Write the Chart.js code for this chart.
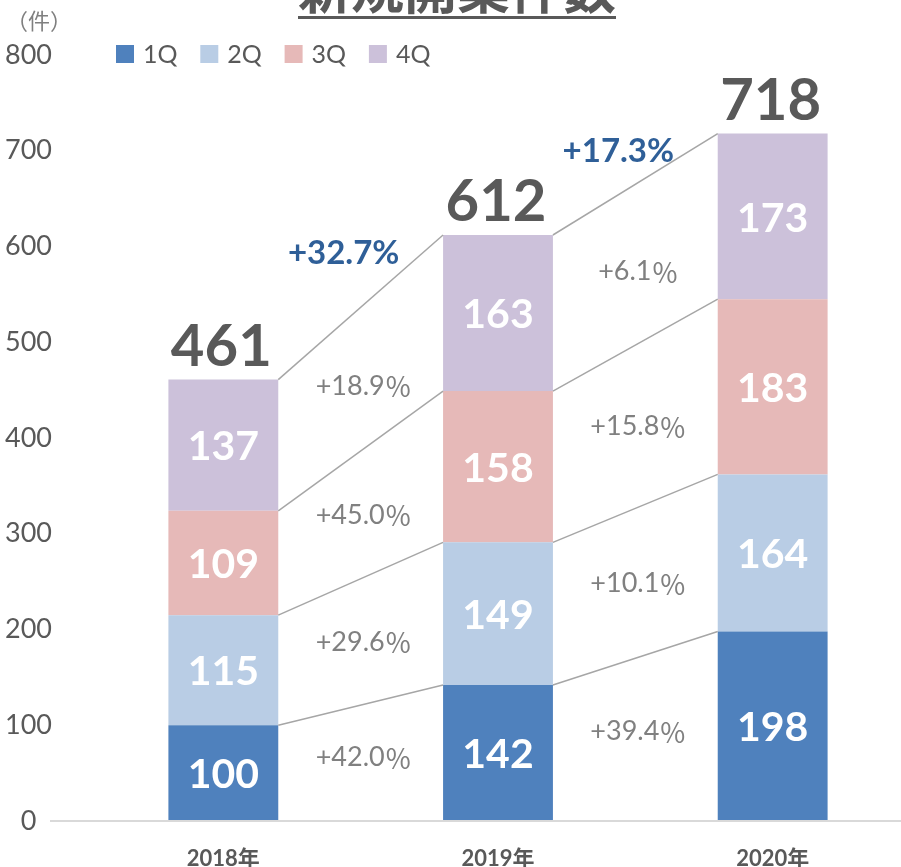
<!DOCTYPE html>
<html>
<head>
<meta charset="utf-8">
<script src="https://cdn.jsdelivr.net/npm/chart.js@4.4.1/dist/chart.umd.min.js"></script>
<style>
  html, body { margin: 0; padding: 0; background: #fff; overflow: hidden; }
</style>
</head>
<body>
<canvas id="chart" width="910" height="867"></canvas>
<script>
// data
const years = ['2018年', '2019年', '2020年'];
const q1 = [100, 142, 198];
const q2 = [115, 149, 164];
const q3 = [109, 158, 183];
const q4 = [137, 163, 173];
const quarterNames = ['1Q', '2Q', '3Q', '4Q'];
const quarterColors = ['#4F81BD', '#B9CDE5', '#E6B9B8', '#CCC1DA'];
const yTicks = [0, 100, 200, 300, 400, 500, 600, 700, 800];
// growth labels as printed (per quarter, per year-to-year gap)
const growthQ1 = ['+42.0％', '+39.4％'];
const growthQ2 = ['+29.6％', '+10.1％'];
const growthQ3 = ['+45.0％', '+15.8％'];
const growthQ4 = ['+18.9％', '+6.1％'];
const growthTotal = ['+32.7%', '+17.3%'];
const chartTitle = '新規開業件数';
const unitLabel = '（件）';

const GRAY = '#595959';
const latin = 'Lato, "Noto Sans CJK JP", sans-serif';
const jp = '"Noto Sans CJK JP", sans-serif';
const growthByQuarter = [growthQ1, growthQ2, growthQ3, growthQ4];

// number part in Lato, full-width ％ in the CJK font, centred as one string
function drawGrowth(ctx, text, cx, cy) {
  const num = text.replace('％', '');
  ctx.font = '27px ' + latin;
  const w1 = ctx.measureText(num).width;
  ctx.font = '27px ' + jp;
  const w2 = ctx.measureText('％').width;
  const x0 = cx - (w1 + w2) / 2;
  ctx.textAlign = 'left';
  ctx.font = '27px ' + latin;
  ctx.fillText(num, x0, cy);
  ctx.font = '27px ' + jp;
  ctx.fillText('％', x0 + w1, cy + 1);
  ctx.textAlign = 'center';
}

const overlay = {
  id: 'overlay',
  afterDatasetsDraw(chart) {
    const ctx = chart.ctx;
    const y = chart.scales.y;
    const metas = chart.data.datasets.map((d, i) => chart.getDatasetMeta(i).data);
    const base = y.getPixelForValue(0);

    ctx.save();
    // base line
    ctx.strokeStyle = '#D9D9D9';
    ctx.lineWidth = 2;
    ctx.beginPath();
    ctx.moveTo(50, base);
    ctx.lineTo(chart.width, base);
    ctx.stroke();

    // connector lines
    ctx.strokeStyle = '#A6A6A6';
    ctx.lineWidth = 1.5;
    metas.forEach(bars => {
      for (let i = 0; i < bars.length - 1; i++) {
        const a = bars[i], b = bars[i + 1];
        ctx.beginPath();
        ctx.moveTo(a.x + a.width / 2, a.y);
        ctx.lineTo(b.x - b.width / 2, b.y);
        ctx.stroke();
      }
    });

    // values inside segments
    ctx.fillStyle = '#fff';
    ctx.font = 'bold 41px ' + latin;
    ctx.textAlign = 'center';
    ctx.textBaseline = 'middle';
    chart.data.datasets.forEach((ds, d) => {
      metas[d].forEach((el, i) => {
        ctx.fillText(String(ds.data[i]), el.x, (el.y + el.base) / 2 + 2);
      });
    });

    // totals
    ctx.fillStyle = GRAY;
    ctx.font = 'bold 58px ' + latin;
    ctx.textBaseline = 'alphabetic';
    const top = metas[metas.length - 1];
    years.forEach((yr, i) => {
      const total = chart.data.datasets.reduce((s, ds) => s + ds.data[i], 0);
      ctx.fillText(String(total), top[i].x - 2, top[i].y - 14);
    });

    // growth per quarter
    ctx.textBaseline = 'middle';
    for (let i = 0; i < years.length - 1; i++) {
      const gx = (metas[0][i].x + metas[0][i].width / 2 + metas[0][i + 1].x - metas[0][i + 1].width / 2) / 2;
      let prev = base;
      ctx.fillStyle = '#808080';
      growthByQuarter.forEach((labels, d) => {
        const mid = (metas[d][i].y + metas[d][i + 1].y) / 2;
        const ly = d === 0 ? prev + (mid - prev) * 0.55 : (prev + mid) / 2 + (d === 3 ? 7 : 0);
        drawGrowth(ctx, labels[i], gx + 3, ly);
        prev = mid;
      });
      // total growth
      ctx.fillStyle = '#2F5F98';
      ctx.font = 'bold 33px ' + latin;
      ctx.fillText(growthTotal[i], gx - 17, top[i + 1].y + 18);
    }

    // title (cut off by the top edge)
    ctx.fillStyle = GRAY;
    ctx.font = 'bold 53px ' + jp;
    ctx.textBaseline = 'alphabetic';
    ctx.textAlign = 'center';
    const tw = ctx.measureText(chartTitle).width;
    ctx.fillText(chartTitle, 457, 9);
    ctx.fillRect(457 - tw / 2, 16, tw, 3);

    // unit
    ctx.font = '22px ' + jp;
    ctx.textAlign = 'left';
    ctx.textBaseline = 'middle';
    ctx.fillStyle = '#7F7F7F';
    ctx.fillText(unitLabel, 6, 21);

    // legend
    ctx.font = '25px ' + latin;
    chart.data.datasets.forEach((ds, k) => {
      const lx = 116 + k * 84.3;
      ctx.fillStyle = ds.backgroundColor;
      ctx.fillRect(lx, 45, 18, 18);
      ctx.fillStyle = GRAY;
      ctx.fillText(ds.label, lx + 27, 55);
    });
    ctx.restore();
  }
};

new Chart(document.getElementById('chart'), {
  type: 'bar',
  data: {
    labels: years,
    datasets: [q1, q2, q3, q4].map((vals, k) => ({
      label: quarterNames[k],
      data: vals,
      backgroundColor: quarterColors[k],
      borderWidth: 0,
      barPercentage: 1,
      categoryPercentage: 0.4
    }))
  },
  options: {
    responsive: false,
    animation: false,
    devicePixelRatio: 1,
    layout: { padding: { top: 55, right: 0, left: 0, bottom: 0 } },
    plugins: { legend: { display: false }, tooltip: { enabled: false } },
    scales: {
      x: {
        stacked: true,
        grid: { display: false },
        border: { display: false },
        ticks: { color: GRAY, padding: 17, font: { family: '"Liberation Sans Narrow", ' + latin, size: 22, weight: 'bold' } },
        afterFit: s => { s.height = 46; }
      },
      y: {
        stacked: true,
        min: yTicks[0],
        max: yTicks[yTicks.length - 1],
        grid: { display: false, drawTicks: false },
        border: { display: false },
        afterBuildTicks: s => { s.ticks = yTicks.map(v => ({ value: v })); },
        ticks: { color: GRAY, padding: 34, crossAlign: 'center', font: { family: latin, size: 27 } },
        afterFit: s => { s.width = 86; s.paddingTop = 0; s.paddingBottom = 0; }
      }
    }
  },
  plugins: [overlay]
});
</script>
</body>
</html>
